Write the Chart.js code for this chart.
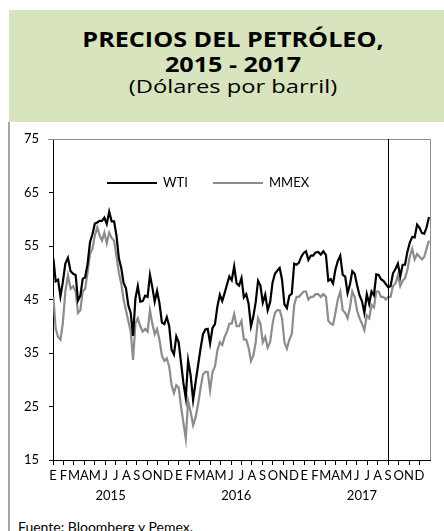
<!DOCTYPE html>
<html>
<head>
<meta charset="utf-8">
<script src="https://cdn.jsdelivr.net/npm/chart.js@4.4.1/dist/chart.umd.min.js"></script>
<style>
  html, body { margin: 0; padding: 0; background: #fff; }
  body { width: 444px; height: 531px; position: relative; overflow: hidden; font-family: Lato, "Open Sans", sans-serif; }
  #head { position: absolute; left: 9px; top: 10px; width: 435px; height: 112px; background: #d7e4bd; }
  .t { position: absolute; left: 0; width: 466px; text-align: center; color: #000; white-space: nowrap;
       font-family: "Open Sans", sans-serif; transform-origin: 233px 50%; }
  .t1 { top: 26px; font-size: 21.5px; font-weight: 700; line-height: 25px; transform: scaleX(1.17); }
  .t2 { top: 51px; font-size: 21.5px; font-weight: 700; line-height: 25px; transform: scaleX(1.17); }
  .t3 { top: 75px; font-size: 18.5px; line-height: 22px; transform: scaleX(1.28); }
  #side { position: absolute; left: 8px; top: 122px; width: 2px; height: 409px; background: #a6a6a6; }
  #src { position: absolute; left: 18px; top: 518px; font-size: 14px; color: #000; white-space: nowrap; }
  #chart { position: absolute; left: 0; top: 0; }
</style>
</head>
<body>
<div id="head"></div>
<div class="t t1">PRECIOS DEL PETRÓLEO,</div>
<div class="t t2">2015 - 2017</div>
<div class="t t3">(Dólares por barril)</div>
<div id="side"></div>
<div id="src">Fuente: Bloomberg y Pemex.</div>
<canvas id="chart" width="444" height="531"></canvas>

<script>
// ====================================================
// 1) DATA (weekly closes, first week = 2 Jan 2015)
// ====================================================
const monthLetters = ["E", "F", "M", "A", "M", "J", "J", "A", "S", "O", "N", "D"];
const years = ["2015", "2016", "2017"];
const seriesNames = ["WTI", "MMEX"];
const firstWeek = [2015, 0, 2];
const markerMonth = 32; // sept 2017

const wti2015 = [52.7, 48.4, 48.7, 45.6, 48.2, 51.7, 52.8, 50.3, 49.8, 49.6,
  44.8, 45.7, 48.9, 49.1, 51.6, 55.7, 57.2, 59.2, 59.4, 59.7,
  59.7, 60.3, 59.1, 61.4, 59.6, 59.6, 56.9, 52.7, 50.9, 48.1,
  47.1, 43.9, 42.5, 38.2, 45.2, 47.5, 44.6, 44.7, 45.7, 45.5,
  49.6, 47.3, 44.6, 46.6, 44.3, 40.7, 40.4, 41.7, 40.0, 35.6,
  34.7, 38.1];
const wti2016 = [37.0, 33.2, 29.4, 26.6, 33.6, 30.9, 26.2, 29.6, 32.8, 35.9,
  38.5, 39.4, 39.5, 36.8, 39.7, 40.4, 43.7, 45.9, 44.7, 46.2,
  47.8, 49.3, 48.6, 51.2, 48.0, 47.6, 49.0, 45.4, 46.0, 44.2,
  40.0, 41.8, 44.5, 48.5, 47.6, 44.4, 45.9, 43.0, 44.5, 48.2,
  49.8, 50.4, 50.9, 48.7, 44.1, 43.4, 45.7, 46.1, 51.7, 51.5,
  51.9, 53.0, 53.7];
const wti2017 = [54.0, 52.4, 53.2, 53.2, 53.8, 53.9, 53.4, 54.0, 53.3, 48.5,
  48.8, 48.0, 50.6, 52.2, 53.2, 49.6, 49.3, 46.2, 47.8, 50.3,
  49.8, 47.7, 45.8, 44.7, 42.5, 46.0, 44.2, 46.5, 45.8, 49.7,
  49.6, 48.8, 48.5, 47.9, 47.3, 47.5, 49.9, 50.7, 51.7, 49.3,
  51.5, 51.5, 53.9, 55.6, 56.7, 56.6, 59.0, 58.4, 57.4, 57.3,
  58.5, 60.4];

const mmex2015 = [45.5, 39.5, 38.0, 37.5, 40.5, 46.5, 49.5, 47.0, 47.5, 46.5,
  42.5, 43.0, 46.5, 47.0, 50.0, 53.5, 54.5, 57.0, 58.5, 57.0,
  56.0, 57.5, 55.5, 57.5, 56.5, 56.0, 53.0, 50.0, 48.0, 45.0,
  43.0, 41.0, 39.0, 33.7, 40.5, 41.5, 40.0, 39.0, 39.5, 39.0,
  43.0, 40.5, 38.5, 39.5, 37.5, 34.5, 33.5, 34.0, 32.5, 29.0,
  27.5, 29.0];
const mmex2016 = [28.5, 25.0, 22.0, 19.0, 26.0, 24.0, 21.5, 23.0, 25.5, 28.5,
  31.0, 31.5, 31.5, 28.0, 31.5, 32.5, 35.5, 37.0, 36.5, 38.0,
  39.0, 40.5, 40.5, 42.3, 40.0, 40.0, 41.0, 37.5, 37.5, 36.0,
  33.5, 34.5, 37.0, 41.5, 40.5, 37.0, 38.0, 36.0, 37.0, 40.5,
  42.5, 43.0, 43.0, 41.5, 37.0, 35.8, 37.5, 38.5, 44.0, 45.5,
  45.5, 46.0, 46.5];
const mmex2017 = [46.5, 45.0, 45.5, 45.5, 46.0, 46.0, 45.5, 46.0, 45.5, 41.0,
  40.5, 40.3, 42.5, 45.0, 46.5, 43.0, 42.5, 41.5, 43.5, 46.5,
  45.5, 43.0, 41.5, 40.5, 39.3, 42.0, 41.5, 44.0, 43.5, 46.5,
  46.5, 45.5, 45.5, 45.0, 45.5, 45.5, 47.5, 48.0, 49.5, 47.5,
  48.5, 49.0, 50.5, 53.0, 54.5, 52.5, 53.5, 53.0, 52.5, 53.0,
  54.5, 56.0];


// ====================================================
// 2) WEEK INDEX -> MONTHS SINCE JAN 2015
// ====================================================
function weekToMonth(i) {
  const d = new Date(firstWeek[0], firstWeek[1], firstWeek[2] + 7 * i);
  const dim = new Date(d.getFullYear(), d.getMonth() + 1, 0).getDate();
  return (d.getFullYear() - firstWeek[0]) * 12 + d.getMonth() + (d.getDate() - 1) / dim;
}

function toPoints(values) {
  return values.map((v, i) => ({ x: weekToMonth(i), y: v }));
}

const wti = wti2015.concat(wti2016, wti2017);
const mmex = mmex2015.concat(mmex2016, mmex2017);


// ====================================================
// 3) EXTRA DRAWING (frame, marker line, legend, years)
// ====================================================
const extras = {
  id: "extras",
  afterDatasetsDraw(chart) {
    const { ctx, chartArea: a, scales } = chart;
    ctx.save();

    // top + right frame
    ctx.strokeStyle = "#8c8c8c";
    ctx.lineWidth = 1;
    ctx.beginPath();
    ctx.moveTo(a.left - 5, a.top + 0.5);
    ctx.lineTo(a.right + 0.5, a.top + 0.5);
    ctx.lineTo(a.right + 0.5, a.bottom);
    ctx.stroke();

    // vertical marker
    const mx = Math.round(scales.x.getPixelForValue(markerMonth)) + 0.5;
    ctx.strokeStyle = "#000";
    ctx.beginPath();
    ctx.moveTo(mx, a.top);
    ctx.lineTo(mx, a.bottom);
    ctx.stroke();

    // legend
    ctx.font = "13px Lato";
    ctx.textBaseline = "middle";
    ctx.fillStyle = "#000";
    const lx = [107, 213];
    chart.data.datasets.forEach((ds, k) => {
      ctx.strokeStyle = ds.borderColor;
      ctx.lineWidth = 2;
      ctx.beginPath();
      ctx.moveTo(lx[k], 183);
      ctx.lineTo(lx[k] + 50, 183);
      ctx.stroke();
      ctx.fillText(ds.label, lx[k] + 56, 183);
    });

    // years under the month letters
    ctx.textAlign = "center";
    years.forEach((y, k) => {
      ctx.fillText(y, scales.x.getPixelForValue(5.5 + 12 * k), 496);
    });

    ctx.restore();
  }
};


// ====================================================
// 4) CHART
// ====================================================
new Chart(document.getElementById("chart"), {
  type: "line",
  data: {
    datasets: [
      {
        label: seriesNames[0],
        data: toPoints(wti),
        borderColor: "#000000",
        borderWidth: 2.2,
        pointRadius: 0,
        tension: 0
      },
      {
        label: seriesNames[1],
        data: toPoints(mmex),
        borderColor: "#8c8c8c",
        borderWidth: 2.2,
        pointRadius: 0,
        tension: 0
      }
    ]
  },
  options: {
    responsive: false,
    animation: false,
    devicePixelRatio: 1,
    layout: { padding: { top: 139, right: 14, left: 0, bottom: 0 } },
    plugins: { legend: { display: false }, tooltip: { enabled: false } },
    scales: {
      x: {
        type: "linear",
        min: 0,
        max: 36,
        afterFit: s => { s.height = 71; },
        afterBuildTicks: s => { s.ticks = s.ticks.filter(t => t.value < 36); },
        grid: { drawOnChartArea: false, tickLength: 5, color: "#000" },
        border: { color: "#000", width: 1 },
        ticks: {
          stepSize: 1,
          autoSkip: false,
          maxRotation: 0,
          minRotation: 0,
          padding: 3,
          color: "#000",
          font: { family: "Lato", size: 13 },
          callback: v => monthLetters[v % 12]
        }
      },
      y: {
        min: 15,
        max: 75,
        afterFit: s => { s.width = 53; },
        grid: { drawOnChartArea: false, tickLength: 4, color: "#000" },
        border: { color: "#000", width: 1 },
        ticks: {
          stepSize: 10,
          padding: 10,
          color: "#000",
          font: { family: "Lato", size: 13 }
        }
      }
    }
  },
  plugins: [extras]
});
</script>
</body>
</html>
